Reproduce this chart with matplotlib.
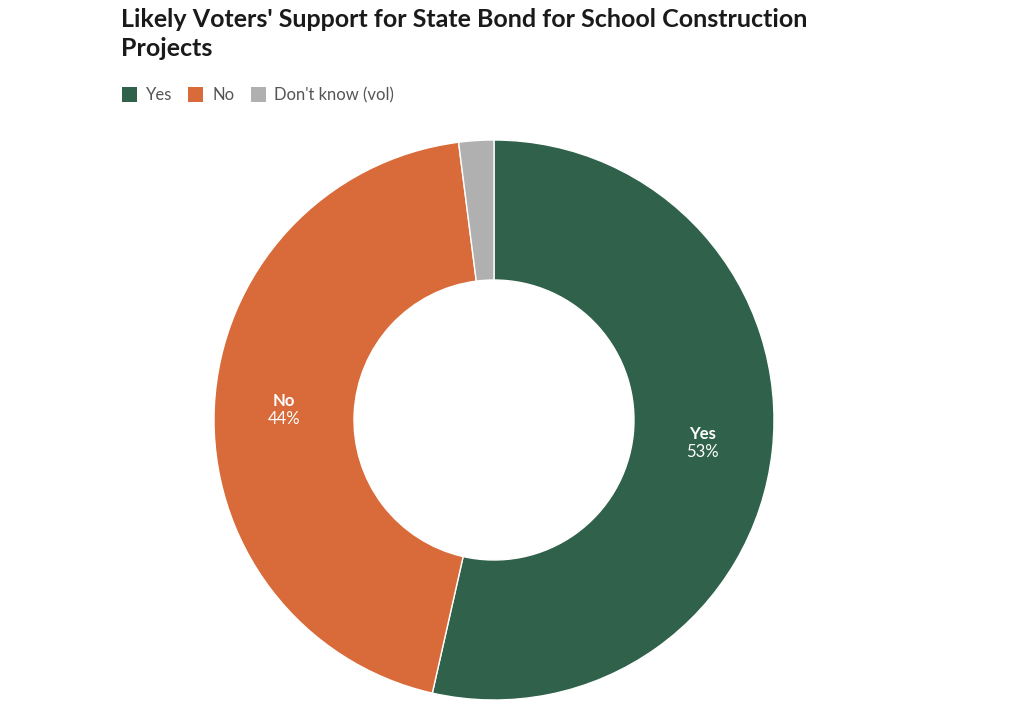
import matplotlib
matplotlib.use("Agg")
import matplotlib.pyplot as plt
from matplotlib.patches import Rectangle
import numpy as np

plt.rcParams['font.family'] = ['Lato', 'DejaVu Sans']

title = "Likely Voters' Support for State Bond for School Construction\nProjects"
categories = ["Yes", "No", "Don't know (vol)"]
short_labels = ["Yes", "No", ""]
values = [53, 44, 2]
colors = ["#2f614b", "#d96a39", "#b0b0b0"]

fig = plt.figure(figsize=(10.24, 7.18), dpi=100)
W, H = 1024, 718

# title
fig.text(121 / W, 1 - 8 / H, title, ha='left', va='top', fontsize=18,
         fontweight='bold', color='#1a1a1a', linespacing=1.3)

# legend
x = 122
for cat, col in zip(categories, colors):
    fig.patches.append(Rectangle((x / W, 1 - 102 / H), 15 / W, 15 / H,
                                 transform=fig.transFigure, facecolor=col,
                                 edgecolor='none'))
    t = fig.text((x + 24) / W, 1 - 95 / H, cat, ha='left', va='center',
                 fontsize=12, color='#555555')
    fig.canvas.draw()
    bb = t.get_window_extent()
    x = bb.x1 + 16

ax = fig.add_axes([(494 - 280) / W, (718 - 700) / H, 560 / W, 560 / H])
wedges, texts = ax.pie(values, colors=colors, startangle=90, counterclock=False,
                       radius=1.0, wedgeprops=dict(width=0.5, edgecolor='white', linewidth=1))
total = sum(values)
ang = 90
for v, lab in zip(values, short_labels):
    span = v / total * 360
    mid = np.deg2rad(ang - span / 2)
    ang -= span
    if not lab:
        continue
    r = 0.75
    cx, cy = r * np.cos(mid), r * np.sin(mid)
    ax.text(cx, cy + 0.003, lab, ha='center', va='bottom', fontsize=12,
            fontweight='bold', color='white')
    ax.text(cx, cy - 0.003, f"{round(v)}%", ha='center', va='top', fontsize=12,
            color='white')
ax.set_xlim(-1, 1)
ax.set_ylim(-1, 1)
ax.set_aspect('equal')
ax.axis('off')

fig.savefig("out.png", dpi=100, facecolor='white')
